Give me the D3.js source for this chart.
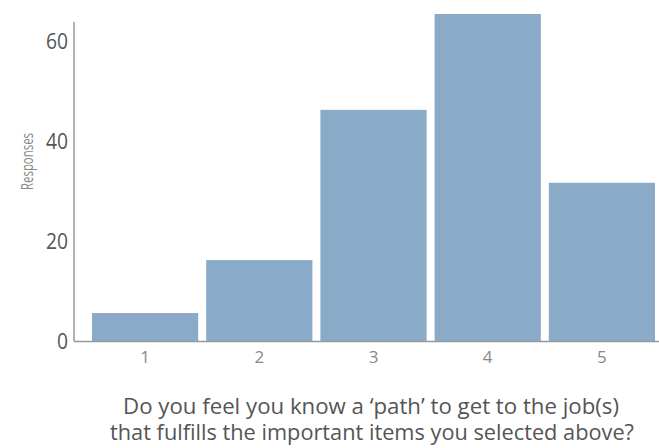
<!DOCTYPE html>
<html>
<head>
<meta charset="utf-8">
<script src="https://cdn.jsdelivr.net/npm/d3@7"></script>
<style>
  html, body { margin: 0; padding: 0; background: #fff; }
  svg { display: block; }
  text { font-family: "Open Sans", "Noto Sans", sans-serif; }
</style>
</head>
<body>
<svg id="chart" width="659" height="448"></svg>
<script>
const categories = ["1", "2", "3", "4", "5"];
const values = [5.7, 16.3, 46.4, 65.6, 31.8];
const yTicks = [0, 20, 40, 60];
const yLabel = "Responses";
const xTitleLines = ["Do you feel you know a \u2018path\u2019 to get to the job(s)",
                     "that fulfills the important items you selected above?"];

const svg = d3.select("#chart");
const W = 659, H = 448;
const axisX = 74, baseY = 341.5, topY = 22;

const x = d3.scaleBand().domain(categories).range([88, 659])
  .paddingInner(0.07).paddingOuter(0.035);
const y = d3.scaleLinear().domain([0, 64]).range([baseY, topY]);

// bars
svg.append("g").selectAll("rect").data(values).join("rect")
  .attr("x", (d, i) => x(categories[i]))
  .attr("width", x.bandwidth())
  .attr("y", d => y(d))
  .attr("height", d => y(0) - y(d))
  .attr("fill", "#8aabc7");

// y axis
const yAxis = svg.append("g").attr("transform", `translate(${axisX},0)`)
  .call(d3.axisLeft(y).tickValues(yTicks).tickSize(0).tickPadding(6));
yAxis.select(".domain").attr("stroke", "#999").attr("stroke-width", 1.5)
  .attr("d", `M0,${topY}V${baseY}`);
yAxis.selectAll("text").attr("font-size", 21).attr("fill", "#555")
  .attr("font-family", "'Open Sans', sans-serif")
  .attr("textLength", 22).attr("lengthAdjust", "spacingAndGlyphs")
  .filter(d => d === 0).attr("textLength", 11);

// x axis
const xAxis = svg.append("g").attr("transform", `translate(0,${baseY})`)
  .call(d3.axisBottom(x).tickSize(0).tickPadding(9));
xAxis.select(".domain").attr("stroke", "#999").attr("stroke-width", 1.5)
  .attr("d", `M${axisX},0H${W}`);
xAxis.selectAll("text").attr("font-size", 17).attr("fill", "#888")
  .attr("font-family", "'Open Sans', sans-serif");

// y label
svg.append("text")
  .attr("transform", `translate(32.5,161.5) rotate(-90)`)
  .attr("text-anchor", "middle")
  .attr("font-size", 17).attr("fill", "#888")
  .attr("textLength", 57).attr("lengthAdjust", "spacingAndGlyphs")
  .text(yLabel);

// x title
const titleWidths = [496, 524];
const titleCenters = [371, 372];
svg.append("g").selectAll("text").data(xTitleLines).join("text")
  .attr("text-anchor", "middle")
  .attr("font-size", 21).attr("fill", "#555")
  .attr("x", (d, i) => titleCenters[i])
  .attr("y", (d, i) => 414 + i * 25.5)
  .attr("textLength", (d, i) => titleWidths[i])
  .attr("lengthAdjust", "spacingAndGlyphs")
  .text(d => d);
</script>
</body>
</html>
